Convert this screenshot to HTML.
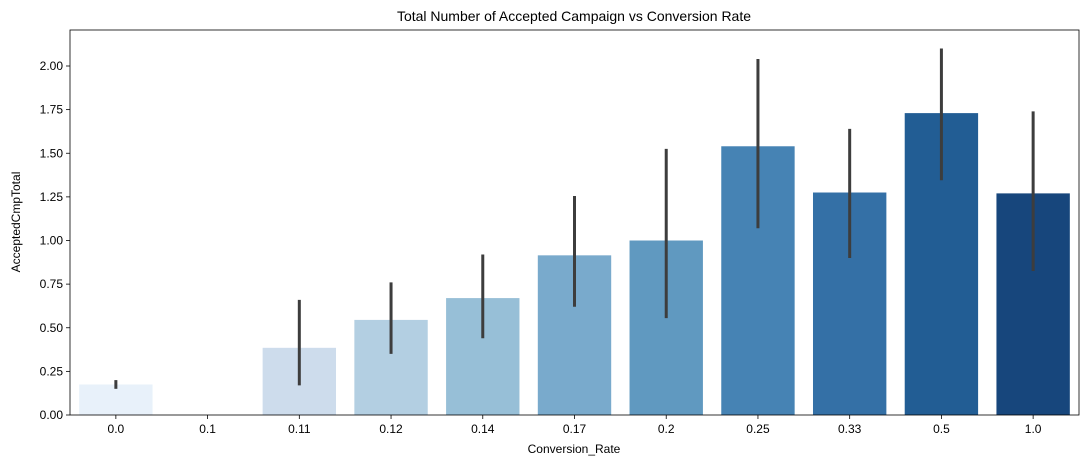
<!DOCTYPE html>
<html><head><meta charset="utf-8"><style>
body{margin:0;background:#fff;font-family:"Liberation Sans",sans-serif;}
svg text{font-family:"Liberation Sans",sans-serif;fill:#000;}
</style></head><body>
<svg id="chart" width="1087" height="468">
<text x="574" y="21" font-size="14" text-anchor="middle">Total Number of Accepted Campaign vs Conversion Rate</text>
<text x="574" y="453" font-size="12" text-anchor="middle">Conversion_Rate</text>
<text transform="translate(20,222) rotate(-90)" font-size="12" text-anchor="middle">AcceptedCmpTotal</text>
<g id="marks"></g>
<rect x="70" y="30" width="1009" height="385" fill="none" stroke="#000" stroke-width="0.8"/>
</svg>
<script>
const categories=["0.0","0.1","0.11","0.12","0.14","0.17","0.2","0.25","0.33","0.5","1.0"];
const values=[0.175,0,0.385,0.545,0.67,0.915,1.0,1.54,1.275,1.73,1.27];
const errLow=[0.15,0,0.17,0.35,0.44,0.62,0.555,1.07,0.9,1.345,0.825];
const errHigh=[0.2,0,0.66,0.76,0.92,1.255,1.525,2.04,1.64,2.1,1.74];
const colors=["#e8f1fa","#dbe9f6","#cddcec","#b3cfe2","#97bfd7","#79aacc","#6099c0","#4683b4","#3470a6","#225d94","#17467c"];
const yTicks=[0,0.25,0.5,0.75,1.0,1.25,1.5,1.75,2.0];
const L=70,R=1079,T=30,B=415;
const ns="http://www.w3.org/2000/svg";
const g=document.getElementById('marks');
const y=v=>B-v*(B-66)/2;
const band=(R-L)/categories.length;
const x=i=>L+band*i;
function mk(t,a){const e=document.createElementNS(ns,t);for(const k in a)e.setAttribute(k,a[k]);g.appendChild(e);return e;}
yTicks.forEach(v=>{
 const l=mk('line',{x1:L-4,x2:L,y1:y(v),y2:y(v),stroke:'#000','stroke-width':0.8});
 
 
 const t=mk('text',{x:L-7,y:y(v)+4,'font-size':12,'text-anchor':'end'});t.textContent=v.toFixed(2);
 
 
});
categories.forEach((c,i)=>{
 const bw=band*0.8,bx=x(i)+band*0.1;
 const r=mk('rect',{x:bx,y:y(values[i]),width:bw,height:B-y(values[i]),fill:colors[i]});
 
 
 const cx=x(i)+band/2;
 if(errHigh[i]>errLow[i]){
  const e=mk('line',{x1:cx,x2:cx,y1:y(errLow[i]),y2:y(errHigh[i]),stroke:'#3d3d3d','stroke-width':3});
  
  
 }
 const tk=mk('line',{x1:cx,x2:cx,y1:B,y2:B+4,stroke:'#000','stroke-width':0.8});
 
 
 const t=mk('text',{x:cx,y:B+18,'font-size':12,'text-anchor':'middle'});t.textContent=c;
 
 
});
</script>
</body></html>
